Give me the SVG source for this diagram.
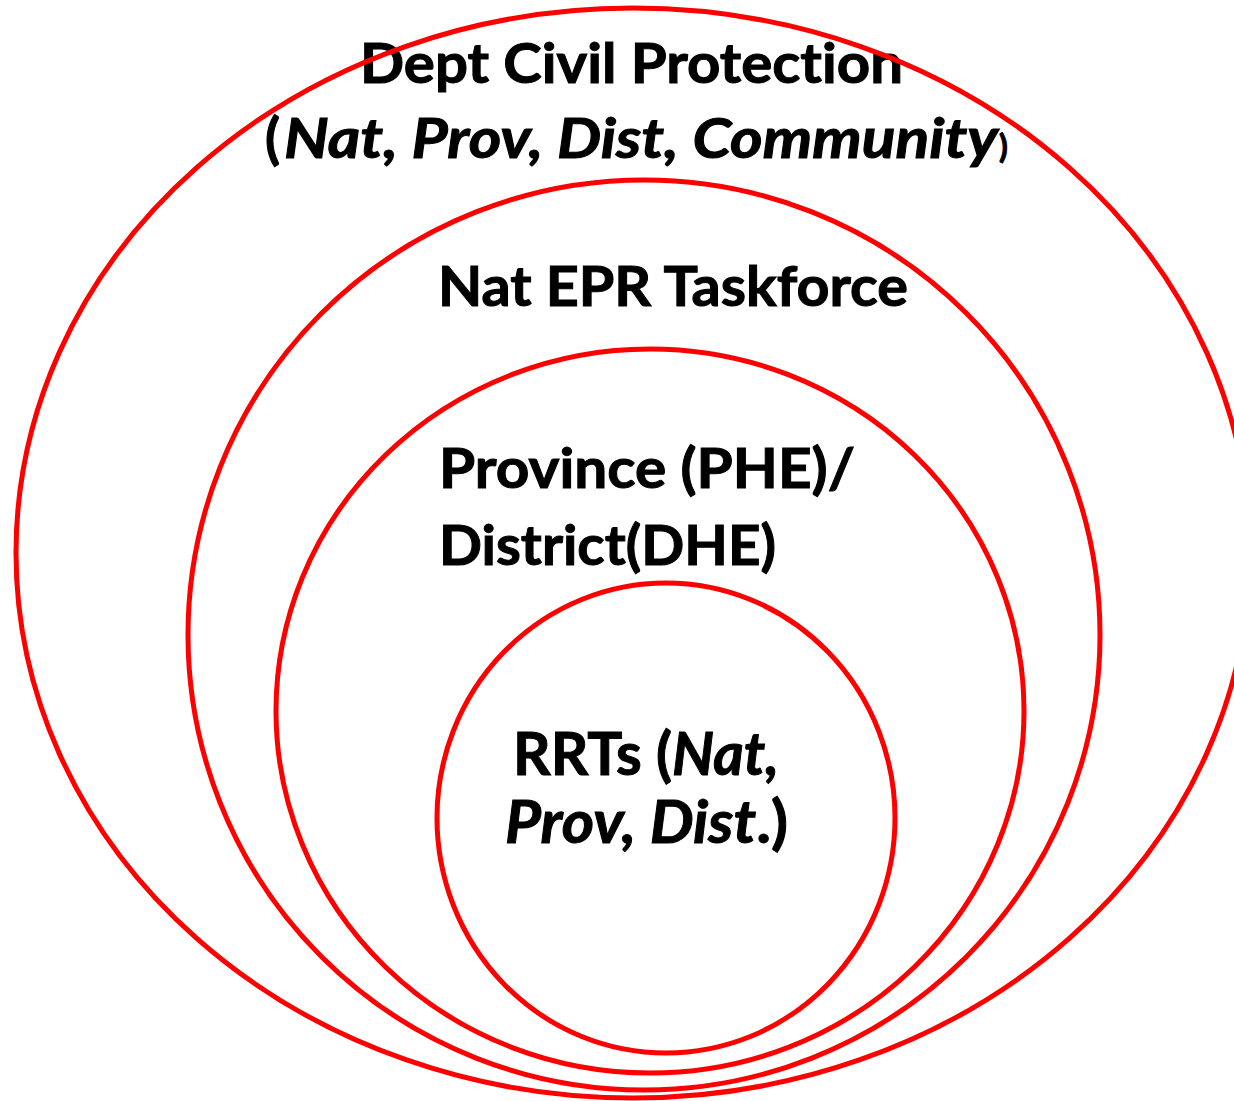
<svg xmlns="http://www.w3.org/2000/svg" width="1234" height="1101" viewBox="0 0 1234 1101">
<style>
.ring{fill:none;stroke:#FF0000;stroke-width:5}
.lbl{font-family:Lato,"Open Sans","Liberation Sans",sans-serif;font-weight:bold;font-size:55px;fill:#000;stroke:#000;stroke-width:1;font-variant-ligatures:none}
.it{font-style:italic}
</style>
<rect width="1234" height="1101" fill="#fff"/>
<g id="node-civil-protection">
<text class="lbl" y="83"><tspan x="360" textLength="543" lengthAdjust="spacingAndGlyphs">Dept Civil Protection</tspan></text>
<text class="lbl" y="158"><tspan x="265">(</tspan><tspan x="284" class="it" textLength="714" lengthAdjust="spacingAndGlyphs">Nat, Prov, Dist, Community</tspan><tspan x="999" style="font-size:32px">)</tspan></text>
<ellipse class="ring" cx="633" cy="553" rx="617" ry="545"/>
</g>
<g id="node-epr-taskforce">
<text class="lbl" y="306"><tspan x="438" textLength="470" lengthAdjust="spacingAndGlyphs">Nat EPR Taskforce</tspan></text>
<ellipse class="ring" cx="644" cy="635" rx="456" ry="455"/>
</g>
<g id="node-province-district">
<text class="lbl" y="488"><tspan x="439" textLength="416" lengthAdjust="spacingAndGlyphs">Province (PHE)/</tspan></text>
<text class="lbl" y="565"><tspan x="439" textLength="337" lengthAdjust="spacingAndGlyphs">District(DHE)</tspan></text>
<ellipse class="ring" cx="650" cy="711" rx="374" ry="362"/>
</g>
<g id="node-rrts">
<text class="lbl" y="775" x="513" textLength="266" lengthAdjust="spacingAndGlyphs" style="font-size:60px">RRTs (<tspan class="it">Nat,</tspan></text>
<text class="lbl" y="843" x="505" textLength="283" lengthAdjust="spacingAndGlyphs" style="font-size:60px"><tspan class="it">Prov, Dist</tspan>.)</text>
<ellipse class="ring" cx="666" cy="818" rx="229" ry="235"/>
</g>
<g id="connectors"/>
</svg>
